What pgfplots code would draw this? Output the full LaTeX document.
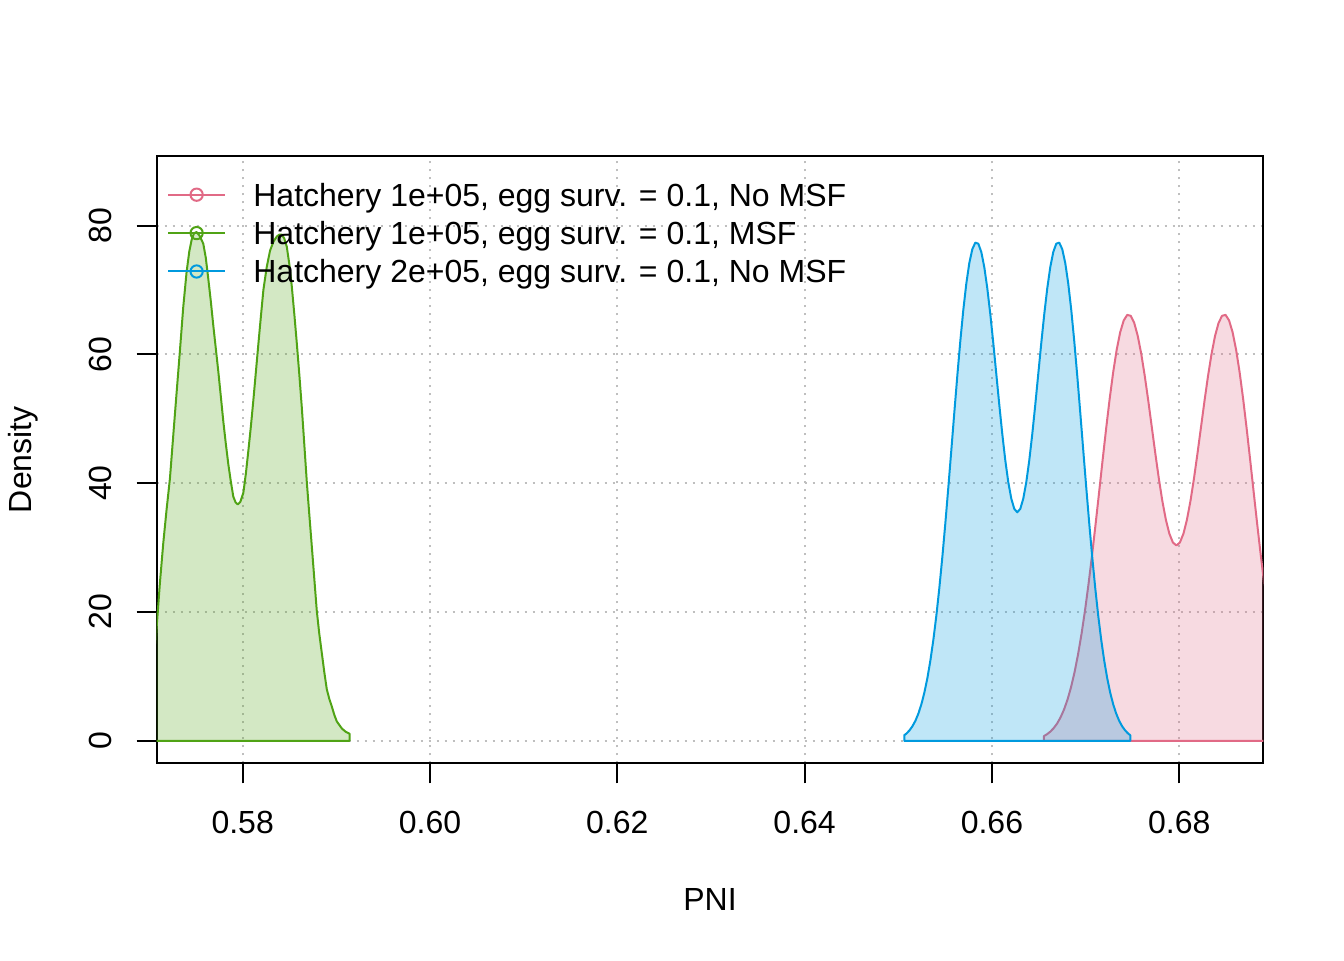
\documentclass[border=0pt]{standalone}
\usepackage{fontspec}
\setmainfont{Liberation Sans}
\usepackage{pgfplots}
\pgfplotsset{compat=1.18}
\definecolor{cpink}{HTML}{E16A86}
\definecolor{cgreen}{HTML}{50A315}
\definecolor{cblue}{HTML}{009ADE}
\begin{document}
\fontsize{12}{14.4}\selectfont
\begin{tikzpicture}[font=\fontsize{12}{14.4}\selectfont]
\path[use as bounding box] (0,0) rectangle (504pt,360pt);
\begin{axis}[
  at={(58.76pt,73.76pt)}, anchor=south west, scale only axis,
  width=414.98pt, height=227.74pt,
  xmin=0.570817, xmax=0.68898, ymin=-3.5, ymax=90.8,
  xtick={0.58,0.60,0.62,0.64,0.66,0.68},
  xticklabels={0.58,0.60,0.62,0.64,0.66,0.68},
  ytick={0,20,40,60,80},
  yticklabels={0,20,40,60,80},
  xtick pos=lower, ytick pos=left,
  tick align=outside, major tick length=7.5pt,
  tick style={black, line width=0.75pt},
  axis line style={black, line width=0.75pt},
  grid=major,
  grid style={color=lightgray, line width=0.75pt, dash pattern=on 0.75pt off 2.25pt},
  xticklabel style={anchor=center, yshift=-14.8pt},
  yticklabel style={xshift=-13.6pt, rotate=90, anchor=center},
  every axis x label/.style={at={(axis description cs:0.5,0)}, anchor=center, yshift=-51.1pt},
  every axis y label/.style={at={(axis description cs:0,0.5)}, xshift=-50pt, rotate=90, anchor=center},
  xlabel={PNI}, ylabel={Density},
  legend style={draw=none, fill=none, at={(axis description cs:0,1)}, anchor=north west,
    xshift=3.9pt, yshift=-7.3pt, inner sep=0pt, outer sep=0pt, row sep=0pt, column sep=10.2pt,
    nodes={inner sep=0pt, text height=11.5pt, text depth=2.9pt}},
  legend cell align=left,
  legend image code/.code={\draw[#1, mark repeat=2, mark phase=2] plot coordinates {(0pt,0pt) (10.7pt,0pt) (21.4pt,0pt)};},
]
% pink: Hatchery 1e+05, egg surv. = 0.1, No MSF
\addplot[draw=cpink, fill=cpink, fill opacity=0.25, draw opacity=1, line width=0.75pt, line join=round, forget plot] table {
x y
0.665555 0
0.665555 0.73
0.665825 0.96
0.666200 1.37
0.666575 1.92
0.666950 2.65
0.667325 3.62
0.667700 4.85
0.668075 6.40
0.668450 8.32
0.668825 10.65
0.669200 13.42
0.669575 16.64
0.669950 20.32
0.670325 24.43
0.670700 28.91
0.671075 33.68
0.671450 38.63
0.671825 43.63
0.672200 48.51
0.672575 53.10
0.672950 57.23
0.673325 60.72
0.673700 63.44
0.674075 65.27
0.674450 66.13
0.674825 65.99
0.675200 64.87
0.675575 62.85
0.675950 60.05
0.676325 56.62
0.676700 52.77
0.677075 48.68
0.677450 44.60
0.677825 40.71
0.678200 37.22
0.678575 34.33
0.678950 32.15
0.679325 30.79
0.679700 30.33
0.680075 30.79
0.680450 32.15
0.680825 34.33
0.681200 37.22
0.681575 40.71
0.681950 44.60
0.682325 48.68
0.682700 52.77
0.683075 56.62
0.683450 60.05
0.683825 62.85
0.684200 64.87
0.684575 65.99
0.684950 66.13
0.685325 65.27
0.685700 63.44
0.686075 60.72
0.686450 57.23
0.686825 53.10
0.687200 48.51
0.687575 43.63
0.687950 38.63
0.688325 33.68
0.688700 28.91
0.689075 24.43
0.689450 20.32
0.689825 16.64
0.689825 0
} -- cycle;
% green: Hatchery 1e+05, egg surv. = 0.1, MSF
\addplot[draw=cgreen, fill=cgreen, fill opacity=0.25, draw opacity=1, line width=0.75pt, line join=round, forget plot] table {
x y
0.57000 0
0.57000 4.0
0.57040 9.0
0.57080 17.4
0.57116 24.5
0.57152 30.7
0.57188 36.0
0.57223 40.7
0.57258 47.3
0.57294 54.0
0.57330 60.6
0.57365 67.3
0.57401 72.8
0.57430 76.0
0.57455 77.8
0.57480 78.8
0.57508 79.0
0.57540 78.4
0.57579 77.2
0.57606 75.0
0.57633 71.7
0.57660 68.2
0.57686 64.5
0.57713 60.9
0.57740 57.3
0.57767 53.4
0.57793 49.6
0.57820 46.1
0.57847 42.9
0.57874 40.2
0.57900 37.9
0.57925 37.0
0.57947 36.7
0.57975 37.1
0.58007 38.5
0.58034 41.5
0.58061 45.1
0.58088 48.9
0.58114 52.9
0.58141 57.3
0.58168 61.7
0.58195 66.0
0.58221 70.0
0.58256 73.5
0.58292 76.1
0.58328 77.5
0.58364 78.3
0.58392 78.6
0.58417 78.6
0.58444 78.0
0.58471 76.7
0.58498 74.0
0.58524 70.6
0.58551 66.3
0.58578 61.7
0.58605 56.8
0.58631 51.8
0.58658 46.0
0.58685 40.1
0.58712 35.0
0.58738 30.2
0.58765 25.1
0.58791 20.2
0.58818 16.6
0.58845 13.6
0.58872 10.6
0.58898 8.0
0.58925 6.5
0.58952 5.3
0.58979 4.0
0.59005 3.0
0.59059 1.9
0.59100 1.4
0.59141 1.1
0.59141 0
} -- cycle;
% blue: Hatchery 2e+05, egg surv. = 0.1, No MSF
\addplot[draw=cblue, fill=cblue, fill opacity=0.25, draw opacity=1, line width=0.75pt, line join=round, forget plot] table {
x y
0.65064 0
0.65064 0.86
0.65087 1.12
0.65119 1.60
0.65151 2.25
0.65183 3.10
0.65215 4.23
0.65247 5.67
0.65279 7.49
0.65311 9.73
0.65343 12.46
0.65375 15.69
0.65407 19.46
0.65439 23.77
0.65471 28.57
0.65503 33.81
0.65535 39.40
0.65567 45.19
0.65599 51.04
0.65631 56.74
0.65663 62.11
0.65695 66.94
0.65727 71.02
0.65759 74.20
0.65791 76.34
0.65823 77.35
0.65855 77.18
0.65887 75.88
0.65919 73.52
0.65951 70.24
0.65983 66.23
0.66015 61.73
0.66047 56.94
0.66079 52.16
0.66111 47.62
0.66143 43.54
0.66175 40.15
0.66207 37.60
0.66239 36.01
0.66271 35.48
0.66303 36.01
0.66335 37.60
0.66367 40.15
0.66399 43.54
0.66431 47.62
0.66463 52.16
0.66495 56.94
0.66527 61.73
0.66559 66.23
0.66591 70.24
0.66623 73.52
0.66655 75.88
0.66687 77.18
0.66719 77.35
0.66751 76.34
0.66783 74.20
0.66815 71.02
0.66847 66.94
0.66879 62.11
0.66911 56.74
0.66943 51.04
0.66975 45.19
0.67007 39.40
0.67039 33.81
0.67071 28.57
0.67103 23.77
0.67135 19.46
0.67167 15.69
0.67199 12.46
0.67231 9.73
0.67263 7.49
0.67295 5.67
0.67327 4.23
0.67359 3.10
0.67391 2.25
0.67423 1.60
0.67455 1.12
0.67478 0.86
0.67478 0
} -- cycle;
\addlegendimage{color=cpink, line width=0.75pt, mark=o, mark size=2.3pt}
\addlegendentry{Hatchery 1e+05, egg surv. = 0.1, No MSF}
\addlegendimage{color=cgreen, line width=0.75pt, mark=o, mark size=2.3pt}
\addlegendentry{Hatchery 1e+05, egg surv. = 0.1, MSF}
\addlegendimage{color=cblue, line width=0.75pt, mark=o, mark size=2.3pt}
\addlegendentry{Hatchery 2e+05, egg surv. = 0.1, No MSF}
\end{axis}
\end{tikzpicture}
\end{document}
